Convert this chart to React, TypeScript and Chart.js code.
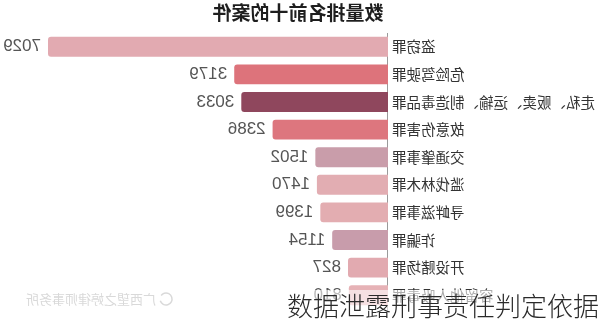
import React, { useEffect, useRef } from "react";
import { Chart, registerables } from "chart.js";

Chart.register(...registerables);

const TITLE = "数量排名前十的案件";
const categories = [
  "盗窃罪",
  "危险驾驶罪",
  "走私、贩卖、运输、制造毒品罪",
  "故意伤害罪",
  "交通肇事罪",
  "滥伐林木罪",
  "寻衅滋事罪",
  "诈骗罪",
  "开设赌场罪",
  "容留他人吸毒罪",
];
const values = [7029, 3179, 3033, 2386, 1502, 1470, 1399, 1154, 827, 810];
const barColors = [
  "#e2aab1",
  "#dd737b",
  "#8f475d",
  "#dd767e",
  "#c99daa",
  "#e2adb2",
  "#e3adb1",
  "#c89cab",
  "#e2aab0",
  "#e6b2b6",
];
const WATERMARK = "广西望之婷律师事务所";
const CAPTION = "数据泄露刑事责任判定依据";

const decorPlugin = {
  id: "decor",
  afterDatasetsDraw(chart: any) {
    const ctx = chart.ctx as CanvasRenderingContext2D;
    const meta = chart.getDatasetMeta(0);
    ctx.save();
    // value labels
    ctx.font = "17px 'Liberation Sans', sans-serif";
    ctx.fillStyle = "#555555";
    ctx.textBaseline = "middle";
    ctx.textAlign = "left";
    meta.data.forEach((bar: any, i: number) => {
      ctx.fillText(String(values[i]), bar.x + 7, bar.y);
    });
    // title
    ctx.font = "bold 19px 'Noto Sans CJK SC', sans-serif";
    ctx.fillStyle = "#1e1e1e";
    ctx.textAlign = "center";
    ctx.fillText(TITLE, 302, 13);
    // watermark
    ctx.font = "13px 'Noto Sans CJK SC', sans-serif";
    ctx.fillStyle = "#d9d9d9";
    ctx.textAlign = "left";
    ctx.fillText(WATERMARK, 444, 299);
    ctx.strokeStyle = "#d9d9d9";
    ctx.lineWidth = 1.5;
    ctx.beginPath();
    ctx.arc(434, 299, 6, 0.3, Math.PI * 1.8);
    ctx.stroke();
    ctx.restore();
  },
};

export default function App() {
  const ref = useRef<HTMLCanvasElement | null>(null);

  useEffect(() => {
    if (!ref.current) return;
    const chart = new Chart(ref.current, {
      type: "bar",
      data: {
        labels: categories,
        datasets: [
          {
            data: values,
            backgroundColor: barColors,
            borderRadius: 3,
            borderSkipped: "start",
            categoryPercentage: 1,
            barPercentage: 0.72,
          },
        ],
      },
      options: {
        indexAxis: "y",
        animation: false,
        responsive: false,
        devicePixelRatio: 1,
        layout: { padding: { top: 33, right: 48, bottom: 15, left: 0 } },
        plugins: {
          legend: { display: false },
          title: { display: false },
          tooltip: { enabled: false },
        },
        scales: {
          x: {
            display: false,
            min: 0,
            max: 7029,
          },
          y: {
            position: "left",
            grid: { display: false, drawTicks: false },
            border: { display: true, color: "#9a9a9a", width: 1 },
            ticks: {
              padding: 4,
              color: "#333333",
              font: { size: 14.5, family: "'Noto Sans CJK SC', sans-serif" },
              autoSkip: false,
            },
            afterFit: (scale: any) => {
              scale.width = 212;
            },
          },
        },
      },
      plugins: [decorPlugin],
    });
    return () => chart.destroy();
  }, []);

  return (
    <div
      style={{
        position: "absolute",
        left: 0,
        top: 0,
        width: 600,
        height: 324,
        background: "#ffffff",
        overflow: "hidden",
      }}
    >
      <canvas
        ref={ref}
        width={600}
        height={324}
        style={{ display: "block", transform: "scaleX(-1)" }}
      />
      <div
        style={{
          position: "absolute",
          left: 287,
          top: 290,
          fontSize: 26,
          lineHeight: "30px",
          fontWeight: 300,
          fontFamily: "'Noto Sans CJK SC', sans-serif",
          color: "#2a2a2a",
          background: "rgba(255,255,255,0.6)",
          whiteSpace: "nowrap",
        }}
      >
        {CAPTION}
      </div>
    </div>
  );
}
